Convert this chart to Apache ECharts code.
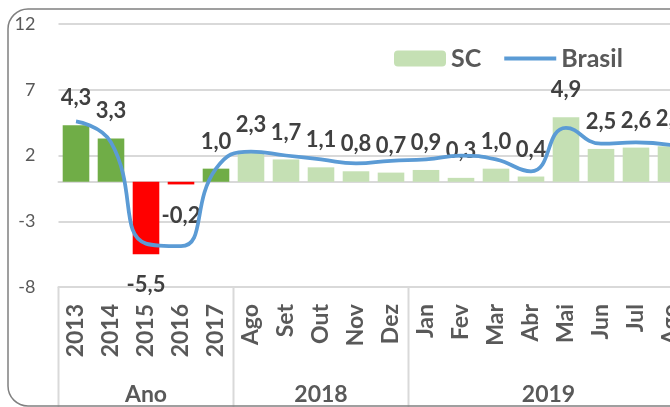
<!DOCTYPE html>
<html>
<head>
<meta charset="utf-8">
<script src="https://cdn.jsdelivr.net/npm/echarts@6/dist/echarts.min.js"></script>
<style>
  html, body { margin: 0; padding: 0; background: #ffffff; }
  #chart { width: 670px; height: 407px; }
</style>
</head>
<body>
<div id="chart"></div>
<script>
// Categories: yearly totals, then monthly figures grouped by year
const categories = ['2013', '2014', '2015', '2016', '2017',
                    'Ago', 'Set', 'Out', 'Nov', 'Dez',
                    'Jan', 'Fev', 'Mar', 'Abr', 'Mai', 'Jun', 'Jul', 'Ago'];
const groupNames = ['Ano', '2018', '2019'];
const groupSizes = [5, 5, 8];

// Santa Catarina (bars) and Brasil (line), %
const scValues = [4.3, 3.3, -5.5, -0.2, 1.0,
                  2.3, 1.7, 1.1, 0.8, 0.7,
                  0.9, 0.3, 1.0, 0.4, 4.9, 2.5, 2.6, 2.7];
const brasilValues = [4.6, 3.0, -4.7, -4.9, 1.0,
                      2.3, 2.0, 1.7, 1.4, 1.6,
                      1.7, 2.0, 1.7, 0.8, 4.1, 2.9, 3.0, 2.8];

// Value-axis ticks: -8, -3, 2, 7, 12
const yMin = -8, yMax = 12, yStep = 5;

const FONT = 'Lato';
const GRID_GREY = '#D9D9D9';
const TEXT_GREY = '#595959';
const YEAR_GREEN = '#70AD47';
const YEAR_RED = '#FF0000';
const MONTH_GREEN = '#C5E0B4';
const LINE_BLUE = '#5B9BD5';

const fmt = v => v.toFixed(1).replace('.', ',');

const barData = scValues.map((v, i) => {
  const item = { value: v };
  if (i < groupSizes[0]) item.itemStyle = { color: v < 0 ? YEAR_RED : YEAR_GREEN };
  if (v < 0) item.label = { position: 'bottom', distance: 20 };
  return item;
});

const chart = echarts.init(document.getElementById('chart'), null, { renderer: 'canvas' });

// The plot area runs on past the right edge of the page, so the last month is cut
chart.setOption({
  animation: false,
  backgroundColor: '#ffffff',
  grid: { left: 58.5, width: 630, top: 24, bottom: 120, containLabel: false, outerBoundsMode: 'none' },
  legend: {
    data: [
      { name: 'SC' },
      { name: 'Brasil', itemStyle: { opacity: 0 }, lineStyle: { width: 4 } }
    ],
    left: 394, top: 46, padding: 0,
    itemWidth: 52, itemHeight: 16, itemGap: 21,
    textStyle: { fontFamily: FONT, fontWeight: 'bold', fontSize: 25, color: TEXT_GREY }
  },
  xAxis: [
    {
      type: 'category', data: categories,
      axisLine: { onZero: true, lineStyle: { color: GRID_GREY, width: 2 } },
      axisTick: { length: 7, lineStyle: { color: GRID_GREY, width: 2 } },
      axisLabel: { show: false },
      splitLine: { show: false }
    },
    {
      type: 'category', data: categories, position: 'bottom',
      axisLine: { show: true, onZero: false, lineStyle: { color: GRID_GREY, width: 2 } },
      axisTick: { length: 73, lineStyle: { color: GRID_GREY, width: 2 } },
      axisLabel: {
        interval: 0, rotate: 90, margin: 17,
        color: TEXT_GREY, fontFamily: FONT, fontWeight: 'bold', fontSize: 23
      },
      splitLine: { show: false }
    }
  ],
  yAxis: {
    type: 'value', min: yMin, max: yMax, interval: yStep,
    axisLine: { show: false }, axisTick: { show: false },
    splitLine: { lineStyle: { color: GRID_GREY, width: 2 } },
    axisLabel: { margin: 23, color: TEXT_GREY, fontFamily: FONT, fontSize: 18 }
  },
  series: [
    {
      name: 'SC', type: 'bar', xAxisIndex: 0, data: barData,
      barCategoryGap: '24%',
      itemStyle: { color: MONTH_GREEN },
      label: {
        show: true, position: 'top', distance: 16,
        formatter: p => fmt(p.value),
        color: '#404040', fontFamily: FONT, fontWeight: 'bold', fontSize: 22
      },
      z: 2
    },
    {
      name: 'Brasil', type: 'line', xAxisIndex: 0, data: brasilValues,
      smooth: 0.5, symbol: 'none', showSymbol: false,
      lineStyle: { color: LINE_BLUE, width: 3.75 },
      itemStyle: { color: LINE_BLUE },
      z: 3
    }
  ]
});

// Outer rounded frame, group separators and group titles under the month labels
const px = i => chart.convertToPixel({ xAxisIndex: 1 }, i);
const band = px(1) - px(0);
const axisY = chart.convertToPixel({ yAxisIndex: 0 }, yMin);

const graphics = [{
  type: 'rect', silent: true, z: 100,
  shape: { x: 8, y: 9, width: 720, height: 397, r: 20 },
  style: { fill: 'none', stroke: '#808080', lineWidth: 1.5 }
}];

let start = 0;
groupNames.forEach((name, g) => {
  const end = start + groupSizes[g];
  const x0 = px(start) - band / 2;
  const x1 = px(end - 1) + band / 2;
  graphics.push({
    type: 'line', silent: true,
    shape: { x1: x0, y1: axisY, x2: x0, y2: axisY + 140 },
    style: { stroke: GRID_GREY, lineWidth: 2 }
  });
  graphics.push({
    type: 'text', silent: true,
    x: (x0 + x1) / 2, y: axisY + 108,
    style: {
      text: name, align: 'center', verticalAlign: 'middle',
      fill: TEXT_GREY, font: 'bold 23px ' + FONT
    }
  });
  start = end;
});

chart.setOption({ graphic: graphics });
</script>
</body>
</html>
